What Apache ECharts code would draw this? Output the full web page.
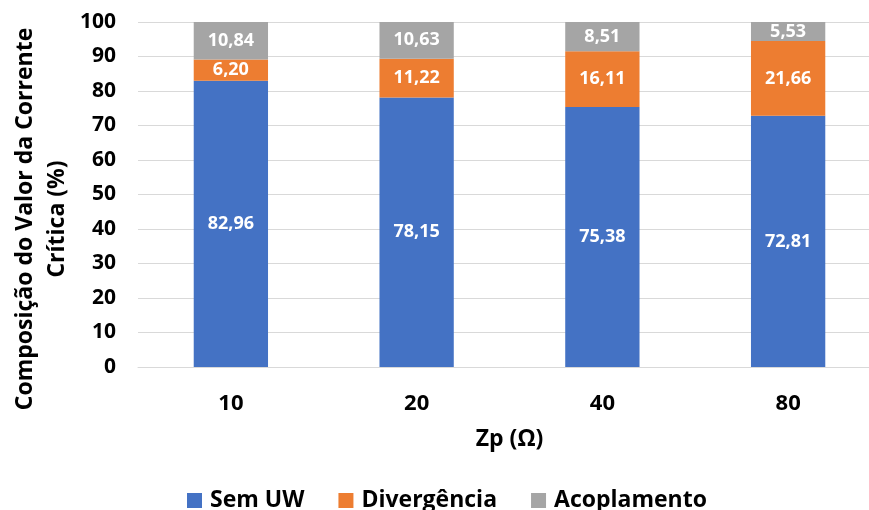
<!DOCTYPE html>
<html>
<head>
<meta charset="utf-8">
<script src="https://cdn.jsdelivr.net/npm/echarts@6/dist/echarts.min.js"></script>
<style>
  html, body { margin: 0; padding: 0; background: #ffffff; }
  #chart { width: 869px; height: 510px; }
</style>
</head>
<body>
<div id="chart"></div>
<script>
// Impedance values Zp (Ω) on the category axis
const categories = ['10', '20', '40', '80'];

// Share of the critical current value (%) per component
const semUW = [82.96, 78.15, 75.38, 72.81];
const divergencia = [6.20, 11.22, 16.11, 21.66];
const acoplamento = [10.84, 10.63, 8.51, 5.53];

const yTicks = { min: 0, max: 100, interval: 10 };

const FONT = '"Open Sans"';
const fmt = v => v.toFixed(2).replace('.', ',');

const labelStyle = {
  show: true,
  position: 'inside',
  color: '#ffffff',
  fontFamily: FONT,
  fontWeight: 'bold',
  fontSize: 18,
  formatter: p => fmt(p.value)
};

function stackSeries(name, data, color) {
  return {
    name: name,
    type: 'bar',
    stack: 'total',
    data: data,
    barCategoryGap: '60%',
    itemStyle: { color: color },
    label: labelStyle,
    emphasis: { disabled: true }
  };
}

const chart = echarts.init(document.getElementById('chart'), null, { renderer: 'canvas' });

chart.setOption({
  animation: false,
  backgroundColor: '#ffffff',
  textStyle: { fontFamily: FONT },
  // the plot area runs slightly past the right edge of the canvas
  grid: { left: 138, width: 743, top: 22, height: 345, containLabel: false, outerBoundsMode: 'none' },
  legend: {
    top: 489,
    left: 187,
    padding: 0,
    itemWidth: 15,
    itemHeight: 15,
    itemGap: 34,
    icon: 'rect',
    textStyle: { fontFamily: FONT, fontWeight: 'bold', fontSize: 23, color: '#000000', padding: [0, 0, 0, 3] },
    data: ['Sem UW', 'Divergência', 'Acoplamento']
  },
  xAxis: {
    type: 'category',
    data: categories,
    name: 'Zp (Ω)',
    nameLocation: 'middle',
    nameGap: 61,
    nameTextStyle: { fontFamily: FONT, fontWeight: 'bold', fontSize: 23, color: '#000000' },
    axisLine: { show: true, lineStyle: { color: '#D9D9D9', width: 1 } },
    axisTick: { show: false },
    axisLabel: { margin: 26, fontFamily: FONT, fontWeight: 'bold', fontSize: 22, color: '#000000' }
  },
  yAxis: {
    type: 'value',
    min: yTicks.min,
    max: yTicks.max,
    interval: yTicks.interval,
    axisLine: { show: false },
    axisTick: { show: false },
    splitLine: { lineStyle: { color: '#D9D9D9', width: 1 } },
    axisLabel: { margin: 22, fontFamily: FONT, fontWeight: 'bold', fontSize: 21, color: '#000000' }
  },
  graphic: [{
    type: 'text',
    x: 41,
    y: 219,
    rotation: Math.PI / 2,
    style: {
      text: 'Composição do Valor da Corrente\nCrítica (%)',
      align: 'center',
      verticalAlign: 'middle',
      lineHeight: 32,
      fontFamily: FONT,
      fontWeight: 'bold',
      fontSize: 23,
      fill: '#000000'
    }
  }],
  series: [
    stackSeries('Sem UW', semUW, '#4472C4'),
    stackSeries('Divergência', divergencia, '#ED7D31'),
    stackSeries('Acoplamento', acoplamento, '#A5A5A5')
  ]
});
</script>
</body>
</html>
